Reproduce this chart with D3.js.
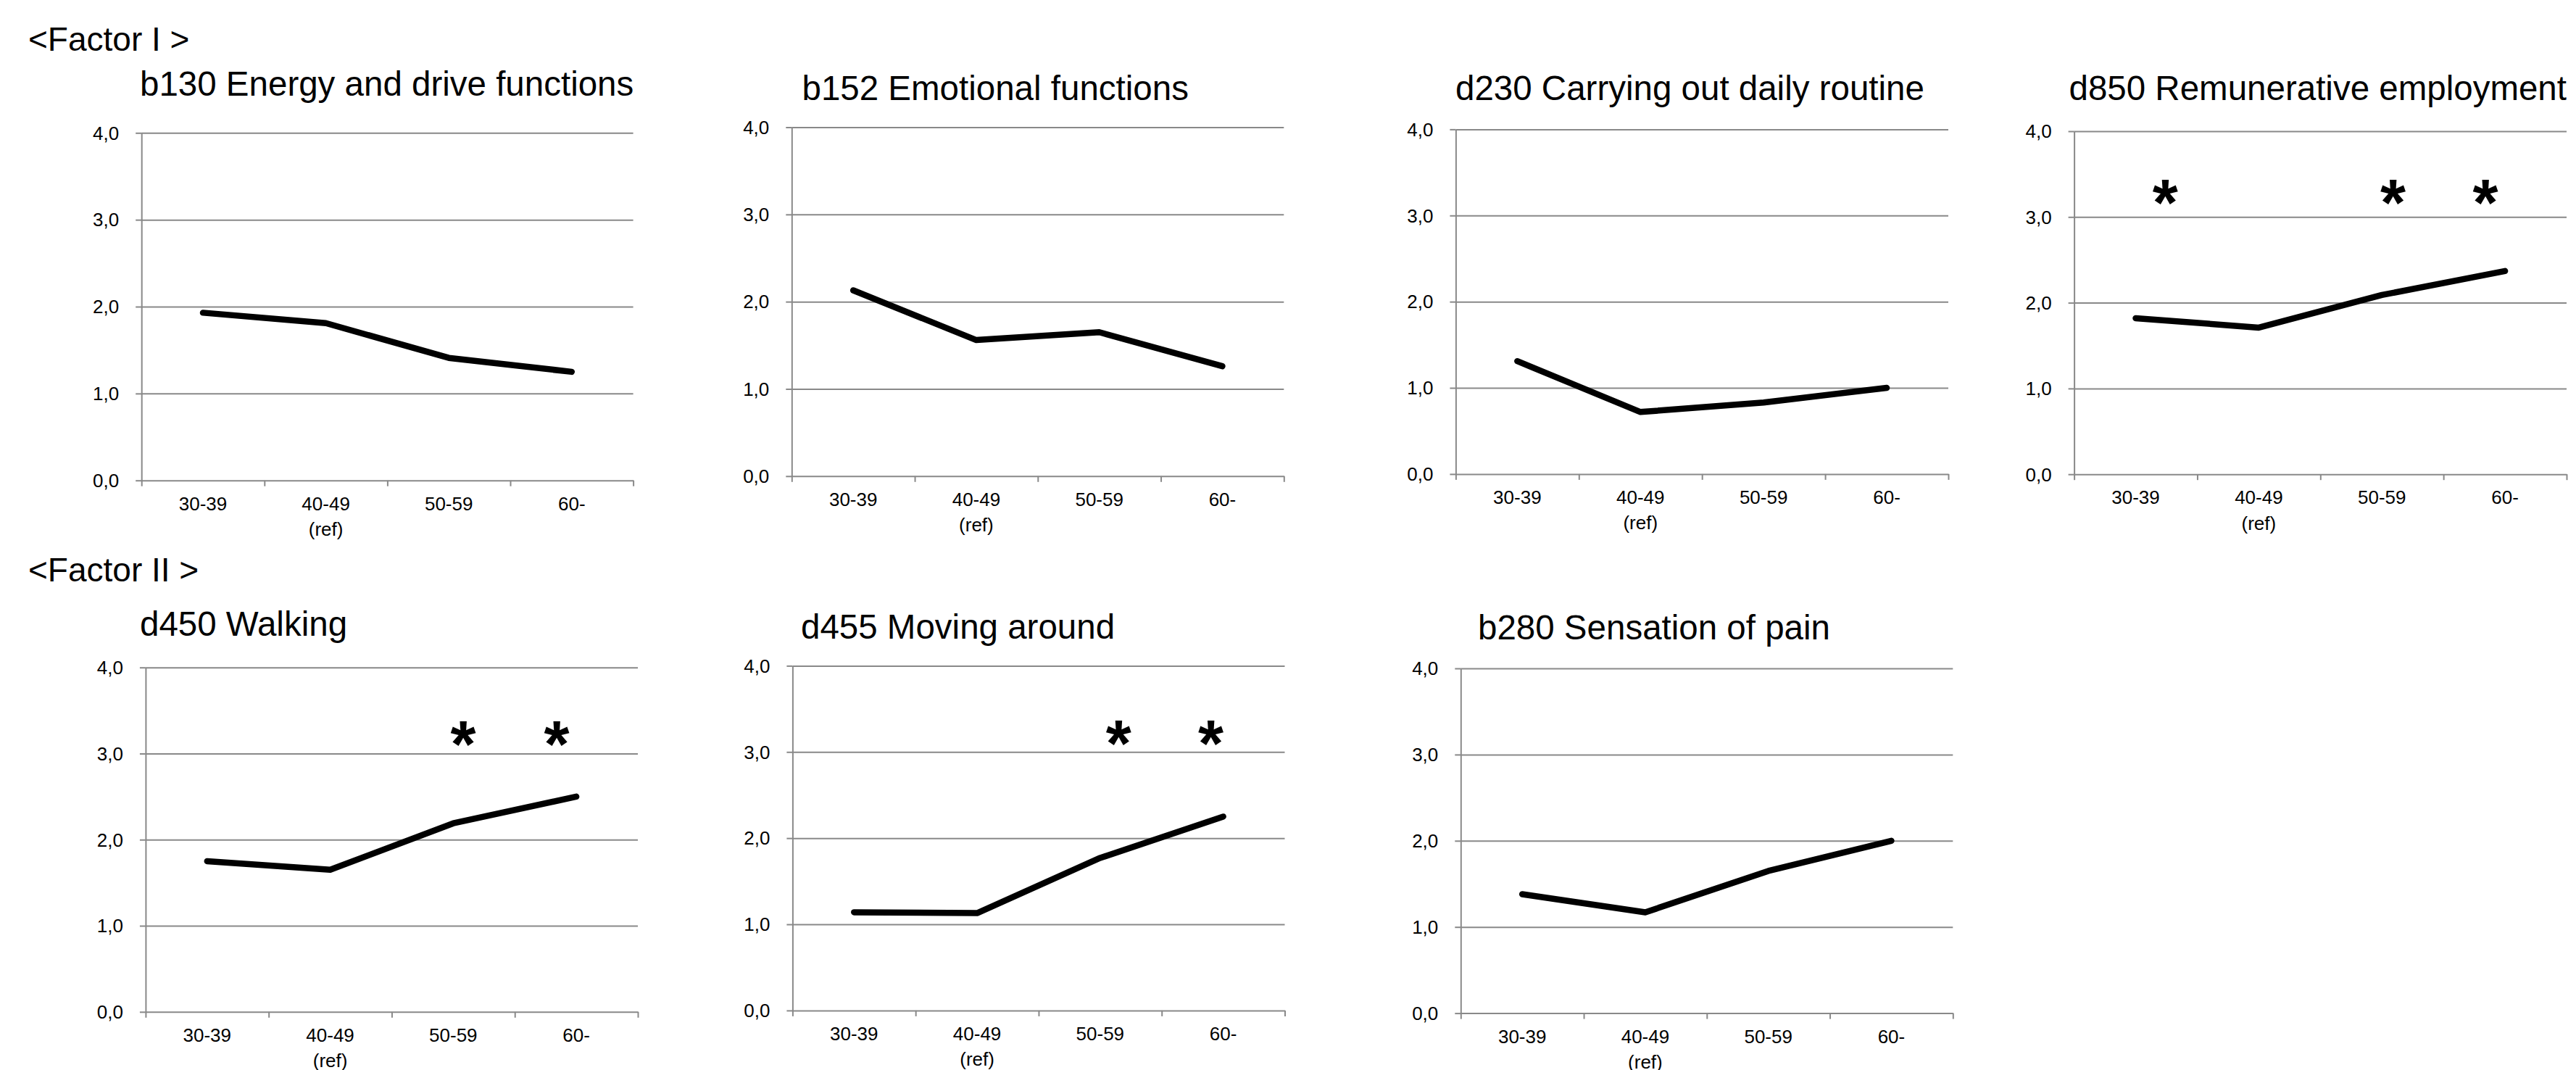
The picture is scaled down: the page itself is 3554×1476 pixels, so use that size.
<!DOCTYPE html>
<html>
<head>
<meta charset="utf-8">
<script src="https://cdn.jsdelivr.net/npm/d3@7"></script>
<style>
  html, body { margin: 0; padding: 0; background: #ffffff; }
  svg { display: block; font-family: "Liberation Sans", Arial, sans-serif; }
</style>
</head>
<body>
<svg id="chart" width="3554" height="1476"></svg>
<script>
// ---------------- DATA ----------------
const categories   = ["30-39", "40-49", "50-59", "60-"];
const categorySub  = ["", "(ref)", "", ""];
const yTickValues  = [0, 1, 2, 3, 4];
const yTickLabels  = ["0,0", "1,0", "2,0", "3,0", "4,0"];
const factorLabels = ["<Factor I >", "<Factor II >"];

const titles = [
  "b130 Energy and drive functions",
  "b152 Emotional functions",
  "d230 Carrying out daily routine",
  "d850 Remunerative employment",
  "d450 Walking",
  "d455 Moving around",
  "b280 Sensation of pain"
];

const b130 = [1.93, 1.81, 1.41, 1.25];
const b152 = [2.13, 1.56, 1.65, 1.26];
const d230 = [1.31, 0.72, 0.83, 1.00];
const d850 = [1.82, 1.71, 2.09, 2.37];
const d450 = [1.75, 1.65, 2.19, 2.50];
const d455 = [1.14, 1.13, 1.77, 2.25];
const b280 = [1.38, 1.17, 1.65, 2.00];

// significance marks: position along the category axis (0..4 index units) and level
const sig_b130 = [];
const sig_b152 = [];
const sig_d230 = [];
const sig_d850 = [0.74, 2.59, 3.34];
const sig_d450 = [2.58, 3.34];
const sig_d455 = [2.65, 3.40];
const sig_b280 = [];
const sigLevel = [3.31, 3.31, 3.31, 3.33, 3.27, 3.26, 3.31];
const sigMark = "*";

const seriesList = [b130, b152, d230, d850, d450, d455, b280];
const sigList    = [sig_b130, sig_b152, sig_d230, sig_d850, sig_d450, sig_d455, sig_b280];

// ---------------- LAYOUT ----------------
const panels = [
  {x0: 195.2,  x1: 873.6,  yT: 183.3, yB: 662.7,  tx: 193,    ty: 132},
  {x0: 1092.3, x1: 1771.3, yT: 175.5, yB: 656.8,  tx: 1106.5, ty: 138},
  {x0: 2008.4, x1: 2688.0, yT: 178.4, yB: 653.9,  tx: 2008,   ty: 138},
  {x0: 2861.6, x1: 3541.0, yT: 181.0, yB: 654.2,  tx: 2854.5, ty: 138},
  {x0: 200.9,  x1: 880.0,  yT: 920.7, yB: 1395.8, tx: 193,    ty: 877},
  {x0: 1093.4, x1: 1772.5, yT: 918.4, yB: 1393.9, tx: 1105,   ty: 881},
  {x0: 2015.3, x1: 2694.3, yT: 922.0, yB: 1397.6, tx: 2039,   ty: 882}
];
const factorPos = [{x: 39, y: 70}, {x: 39, y: 802}];

const gridColor = "#898989";
const svg = d3.select("#chart");

// factor headings
svg.selectAll("text.factor")
  .data(factorLabels)
  .join("text")
  .attr("class", "factor")
  .attr("x", (d, i) => factorPos[i].x)
  .attr("y", (d, i) => factorPos[i].y)
  .attr("font-size", 46)
  .attr("fill", "#000")
  .text(d => d);

panels.forEach((p, pi) => {
  const g = svg.append("g");
  const x = d3.scaleBand().domain(categories).range([p.x0, p.x1]).paddingInner(0).paddingOuter(0);
  const xIdx = d3.scaleLinear().domain([0, categories.length]).range([p.x0, p.x1]);
  const y = d3.scaleLinear().domain([0, 4]).range([p.yB, p.yT]);

  // gridlines
  const grid = g.append("g")
    .attr("transform", `translate(${p.x0},0)`)
    .call(d3.axisLeft(y).tickValues(yTickValues.filter(v => v > 0)).tickSize(-(p.x1 - p.x0)).tickFormat(""));
  grid.select(".domain").remove();
  grid.selectAll("line").attr("stroke", gridColor).attr("stroke-width", 2);

  // y axis
  const ya = g.append("g")
    .attr("transform", `translate(${p.x0},0)`)
    .call(d3.axisLeft(y).tickValues(yTickValues).tickSize(8).tickSizeOuter(0)
      .tickFormat((d, i) => yTickLabels[i]));
  ya.select(".domain").attr("stroke", gridColor).attr("stroke-width", 2);
  ya.selectAll("line").attr("stroke", gridColor).attr("stroke-width", 2);
  ya.selectAll("text")
    .attr("x", -31)
    .attr("dy", "0.34em")
    .attr("font-size", 26)
    .attr("font-family", "'Liberation Sans', Arial, sans-serif")
    .attr("fill", "#000");

  // x axis (ticks at category boundaries)
  const xa = g.append("g")
    .attr("transform", `translate(0,${p.yB})`)
    .call(d3.axisBottom(xIdx).tickValues(d3.range(categories.length + 1)).tickSize(8).tickSizeOuter(0).tickFormat(""));
  xa.select(".domain").attr("stroke", gridColor).attr("stroke-width", 2);
  xa.selectAll("line").attr("stroke", gridColor).attr("stroke-width", 2);

  // x labels
  g.selectAll("text.xl")
    .data(categories)
    .join("text")
    .attr("class", "xl")
    .attr("x", d => x(d) + x.bandwidth() / 2)
    .attr("y", p.yB + 41)
    .attr("text-anchor", "middle")
    .attr("font-size", 26)
    .attr("fill", "#000")
    .text(d => d);
  g.selectAll("text.xs")
    .data(categories.map((c, i) => ({c, s: categorySub[i]})).filter(d => d.s))
    .join("text")
    .attr("class", "xs")
    .attr("x", d => x(d.c) + x.bandwidth() / 2)
    .attr("y", p.yB + 76.5)
    .attr("text-anchor", "middle")
    .attr("font-size", 26)
    .attr("fill", "#000")
    .text(d => d.s);

  // title
  g.append("text")
    .attr("x", p.tx)
    .attr("y", p.ty)
    .attr("font-size", 47.5)
    .attr("fill", "#000")
    .text(titles[pi]);

  // line
  const vals = seriesList[pi];
  const line = d3.line()
    .x((d, i) => x(categories[i]) + x.bandwidth() / 2)
    .y(d => y(d));
  g.append("path")
    .datum(vals)
    .attr("d", line)
    .attr("fill", "none")
    .attr("stroke", "#000")
    .attr("stroke-width", 8.5)
    .attr("stroke-linejoin", "round")
    .attr("stroke-linecap", "round");

  // significance marks
  sigList[pi].forEach(s => {
    const cx = xIdx(s), cy = y(sigLevel[pi]);
    const t = g.append("text")
      .attr("x", cx)
      .attr("y", cy)
      .attr("text-anchor", "middle")
      .attr("font-size", 90)
      .attr("font-weight", "bold")
      .attr("fill", "#000")
      .text(sigMark);
    const bb = t.node().getBBox();
    // shift so the glyph's ink is centered vertically on the target level
    t.attr("y", cy + (cy - (bb.y + bb.height * 0.30)));
  });
});
</script>
</body>
</html>
